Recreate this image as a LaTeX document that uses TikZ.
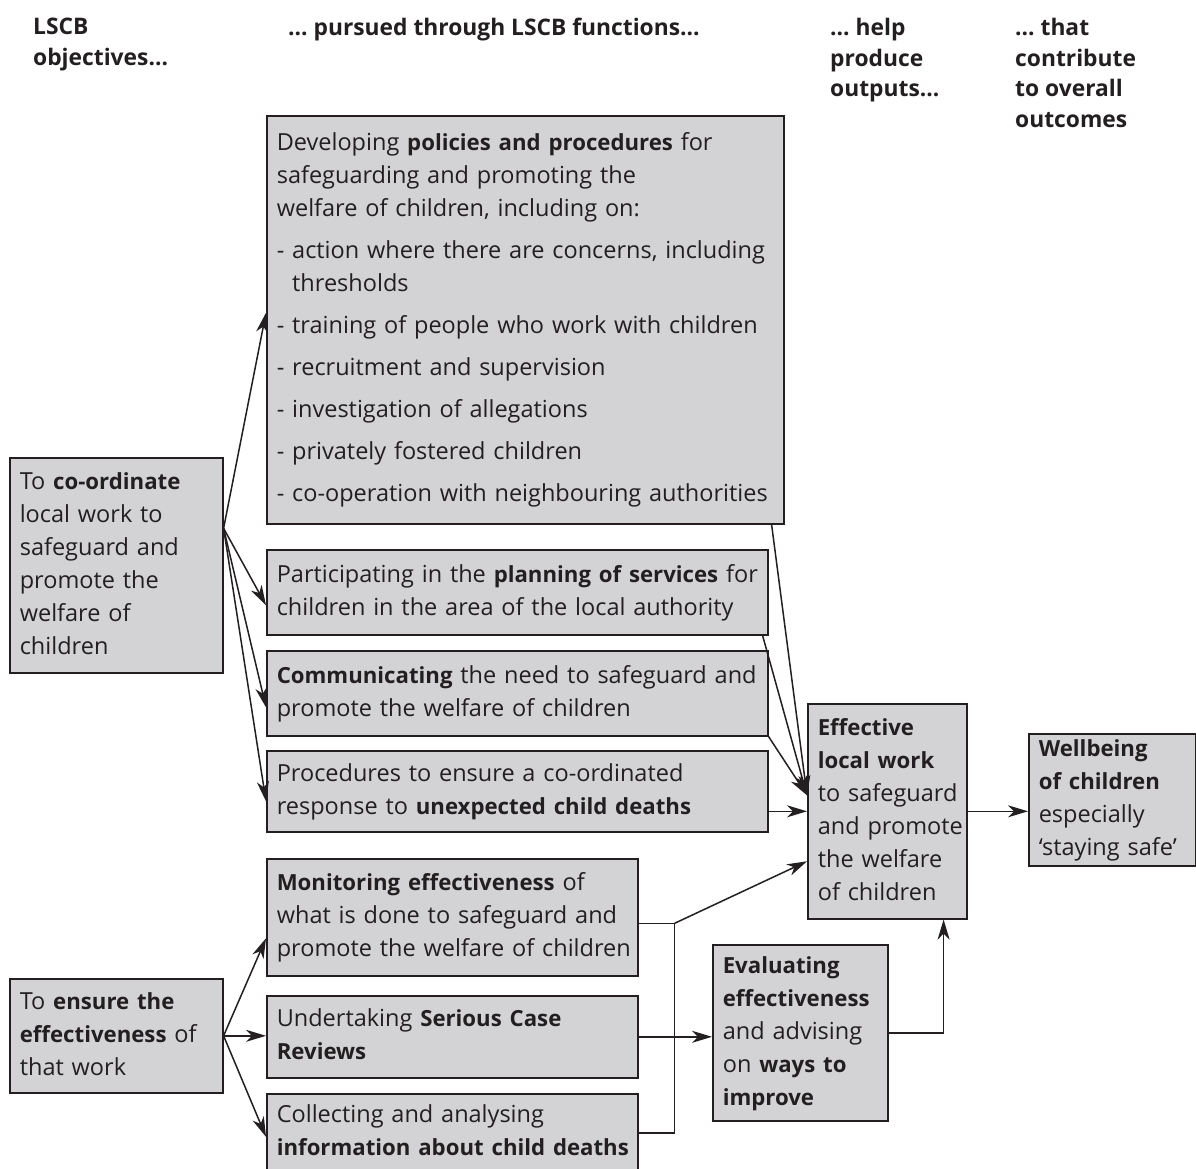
\documentclass[tikz,border=0pt]{standalone}
\usepackage{fontspec}
\setmainfont{Open Sans}
\usetikzlibrary{arrows.meta,calc}
\definecolor{boxfill}{RGB}{211,211,213}
\definecolor{ink}{RGB}{35,31,32}
\newcommand{\bodyfont}{\fontsize{23.5}{33}\selectfont}
\newcommand{\B}[1]{{\fontsize{22.2}{33}\selectfont\bfseries #1}}
\newcommand{\hdrsize}{\bfseries\fontsize{22.8}{30.6}\selectfont}
\newcommand{\bl}[1]{\begin{tabular}{@{}l@{}}#1\end{tabular}}
\tikzset{
  box/.style={draw=ink, fill=boxfill, line width=1.6pt, anchor=north west,
    inner xsep=10pt, inner ysep=0pt, align=left, font=\bodyfont, text=ink},
  arr/.style={draw=ink, line width=1.5pt, -{Stealth[length=20pt,width=12pt,inset=6pt]}},
  ln/.style={draw=ink, line width=1.5pt},
  hdr/.style={anchor=north west, inner sep=0pt, align=left, font=\hdrsize, text=ink}
}
\begin{document}
\begin{tikzpicture}[x=1pt,y=-1pt]
\useasboundingbox (0,0) rectangle (1196,1169);
% headers
\node[hdr] (h1) at (33,18) {LSCB\\objectives…};
\node[hdr] (h2) at (288,18) {… pursued through LSCB functions…};
\node[hdr] (h3) at (830,18) {… help\\produce\\outputs…};
\node[hdr] (h4) at (1015,18) {… that\\contribute\\to overall\\outcomes};
% boxes
\node[box, minimum width=517pt, minimum height=408pt, text width=497pt] (P) at (266,115)
 {\bl{Developing \B{policies and procedures} for\\
  safeguarding and promoting the\\
  welfare of children, including on:\\[9pt]
  - action where there are concerns, including\\
  \phantom{- }thresholds\\[9pt]
  - training of people who work with children\\[9pt]
  - recruitment and supervision\\[9pt]
  - investigation of allegations\\[9pt]
  - privately fostered children\\[9pt]
  - co-operation with neighbouring authorities}};
\node[box, minimum width=213pt, minimum height=215pt, text width=193pt] (coord) at (9,457)
 {\bl{To \B{co-ordinate}\\ local work to\\ safeguard and\\ promote the\\ welfare of\\ children}};
\node[box, minimum width=501pt, minimum height=85pt, text width=481pt] (plan) at (266,549)
 {\bl{Participating in the \B{planning of services} for\\ children in the area of the local authority}};
\node[box, minimum width=501pt, minimum height=85pt, text width=481pt] (comm) at (266,650)
 {\bl{\B{Communicating} the need to safeguard and\\ promote the welfare of children}};
\node[box, minimum width=501pt, minimum height=81pt, text width=481pt] (proc) at (266,750)
 {\bl{Procedures to ensure a co-ordinated\\ response to \B{unexpected child deaths}}};
\node[box, minimum width=159pt, minimum height=215pt, text width=139pt] (eff) at (807,703)
 {\bl{\B{Effective}\\ \B{local work}\\ to safeguard\\ and promote\\ the welfare\\ of children}};
\node[box, minimum width=167pt, minimum height=125pt, text width=147pt] (well) at (1028,733)
 {\bl{\B{Wellbeing}\\ \B{of children}\\ especially\\ ‘staying safe’}};
\node[box, minimum width=371pt, minimum height=117pt, text width=351pt] (mon) at (266,858)
 {\bl{\B{Monitoring effectiveness} of\\ what is done to safeguard and\\ promote the welfare of children}};
\node[box, minimum width=213pt, minimum height=114pt, text width=193pt] (ens) at (9,978)
 {\bl{To \B{ensure the}\\ \B{effectiveness} of\\ that work}};
\node[box, minimum width=371pt, minimum height=82pt, text width=351pt] (ser) at (266,995)
 {\bl{Undertaking \B{Serious Case}\\ \B{Reviews}}};
\node[box, minimum width=371pt, minimum height=78pt, text width=351pt] (col) at (266,1093)
 {\bl{Collecting and analysing\\ \B{information about child deaths}}};
\node[box, minimum width=175pt, minimum height=176pt, text width=155pt] (eval) at (712,944)
 {\bl{\B{Evaluating}\\ \B{effectiveness}\\ and advising\\ on \B{ways to}\\ \B{improve}}};
% fan from co-ordinate
\coordinate (cf) at ([yshift=37pt]coord.east);
\draw[arr] (cf) -- ([yshift=7pt]P.west);
\draw[arr] (cf) -- ([yshift=-13pt]plan.west);
\draw[arr] (cf) -- ([yshift=-14pt]comm.west);
\draw[arr] (cf) -- ([yshift=-10pt]proc.west);
% fan from ensure
\draw[arr] (ens.east) -- ([yshift=-21pt]mon.west);
\draw[arr] (ens.east) -- (ens.east -| ser.west);
\draw[arr] (ens.east) -- ([yshift=-4pt]col.west);
% convergence into effective
\coordinate (cv) at ([yshift=16pt]eff.west);
\draw[arr] ([xshift=-13pt]P.south east) -- (cv);
\draw[arr] ([xshift=-6pt]plan.south east) -- (cv);
\draw[arr] (comm.south east) -- (cv);
\draw[arr] (proc.east |- eff.west) -- (eff.west);
\draw[arr] (eff.east) -- (eff.east -| well.west);
% monitoring / collecting junction
\coordinate (j1) at ([xshift=36pt,yshift=-6pt]mon.east);
\draw[ln] ([yshift=-6pt]mon.east) -- (j1);
\draw[arr] (j1) -- ([yshift=-50pt]eff.west);
\draw[ln] (col.east) -| (j1);
% serious to evaluating
\draw[arr] (ser.east) -- (ser.east -| eval.west);
% evaluating to effective
\draw[arr] (eval.east) -| ([xshift=-24pt]eff.south east);
\end{tikzpicture}
\end{document}
